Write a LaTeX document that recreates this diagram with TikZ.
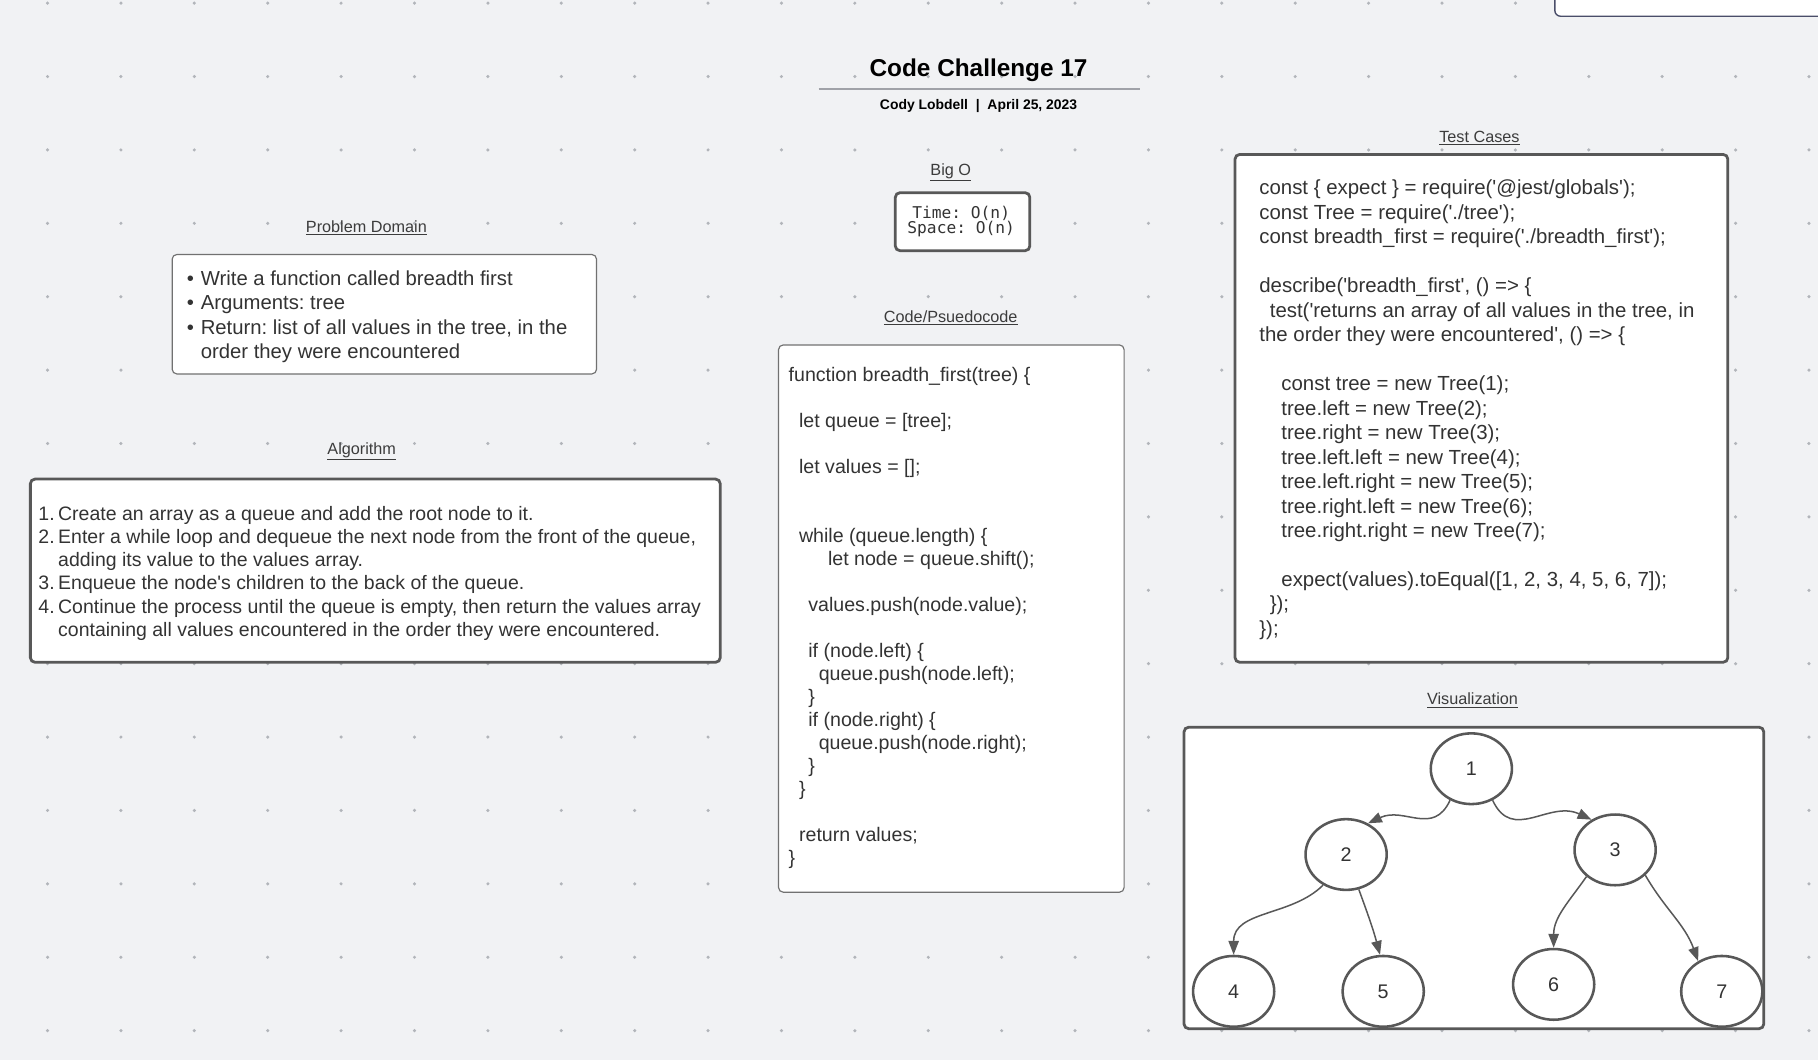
\documentclass[tikz,border=0pt]{standalone}
\usepackage{fontspec}
\setmainfont{Liberation Sans}
\newfontfamily\monof{DejaVu Sans Mono}
\usetikzlibrary{shapes.geometric,arrows.meta}
\frenchspacing
\definecolor{bgc}{HTML}{F1F2F4}
\definecolor{dotc}{HTML}{B2B5BA}
\definecolor{linec}{HTML}{585858}
\definecolor{txtc}{HTML}{333333}
\definecolor{headc}{HTML}{3C3C3C}
\definecolor{rulec}{HTML}{A0A2A8}
\definecolor{topc}{HTML}{4A4E69}
\newcommand{\sq}{\textquotesingle}
\tikzset{
  heading/.style={font=\fontsize{14}{16}\selectfont, text=headc, inner sep=0pt},
  thinbox/.style={draw=linec!85, line width=1pt, fill=white, rounded corners=4pt, anchor=north west, inner sep=0pt},
  thickbox/.style={draw=linec, line width=2.4pt, fill=white, rounded corners=4pt, anchor=north west, inner sep=0pt},
  body/.style={anchor=north west, inner sep=0pt, align=left, text=txtc},
  treenode/.style={ellipse, draw=linec, line width=2.2pt, fill=white, minimum width=70pt, minimum height=61pt, font=\fontsize{17}{20}\selectfont, text=txtc},
  treeedge/.style={draw=linec, line width=1.3pt, -{Triangle[length=12pt,width=9pt]}}
}
\begin{document}
\frenchspacing
\begin{tikzpicture}[x=1pt,y=-1pt]
\useasboundingbox (0,0) rectangle (1568,914);
\begin{scope}
\clip (0,0) rectangle (1568,914);
\fill[bgc] (0,0) rectangle (1568,914);
\foreach \i in {0,...,24}{\foreach \j in {-1,...,13}{\fill[dotc] ({41+63.3*\i},{66+63.3*\j}) circle (1.5);}}
% partial box top right
\draw[fill=white, draw=topc, line width=1.2pt, rounded corners=5pt] (1341,-20) rectangle (1620,14);
\end{scope}

% title
\node[font=\bfseries\fontsize{21}{24}\selectfont, text=black, inner sep=0pt] (title) at (844,61) {Code Challenge 17};
\coordinate (ruleL) at (706,77);
\coordinate (ruleR) at (983,77);
\draw[rulec, line width=1.5pt] (ruleL) -- (ruleR);
\node[font=\bfseries\fontsize{12}{14}\selectfont, text=black, inner sep=0pt] (sub) at (844,91) {Cody Lobdell \ | \ April 25, 2023};

% headings
\node[heading] (hpd) at (316,196.5) {\underline{Problem Domain}};
\node[heading] (halg) at (312,389.5) {\underline{Algorithm}};
\node[heading] (hbig) at (820,148.5) {\underline{Big O}};
\node[heading] (hcode) at (820,274) {\underline{Code/Psuedocode}};
\node[heading] (htest) at (1276,119) {\underline{Test Cases}};
\node[heading] (hvis) at (1270,604) {\underline{Visualization}};

% Problem domain
\node[thinbox, minimum width=366pt, minimum height=103pt] (pdbox) at (148,219) {};
\node[body, font=\fontsize{17.5}{21}\selectfont] (pdtext) at (161,231.3) {\strut\makebox[12pt][l]{•}Write a function called breadth first\\
\makebox[12pt][l]{•}Arguments: tree\\
\makebox[12pt][l]{•}Return: list of all values in the tree, in the\\
\hspace*{12pt}order they were encountered};

% Algorithm
\node[thickbox, minimum width=595pt, minimum height=158pt] (algbox) at (25,412) {};
\node[body, font=\fontsize{16.8}{20}\selectfont] (algtext) at (33,434.5) {\strut\makebox[17pt][l]{1.}Create an array as a queue and add the root node to it.\\
\makebox[17pt][l]{2.}Enter a while loop and dequeue the next node from the front of the queue,\\
\hspace*{17pt}adding its value to the values array.\\
\makebox[17pt][l]{3.}Enqueue the node\sq s children to the back of the queue.\\
\makebox[17pt][l]{4.}Continue the process until the queue is empty, then return the values array\\
\hspace*{17pt}containing all values encountered in the order they were encountered.};

% Big O
\node[thickbox, minimum width=116pt, minimum height=50pt] (bigbox) at (771,165) {};
\node[inner sep=0pt, align=center, font=\monof\fontsize{14}{13}\selectfont, text=txtc] (bigtext) at (829,191) {Time: O(n)\\Space: O(n)};

% Code
\node[thinbox, minimum width=298pt, minimum height=472pt] (codebox) at (671,297) {};
\node[body, font=\fontsize{16.9}{19.85}\selectfont] (codetext) at (680,315) {\strut function breadth\_first(tree) \{\\
\mbox{}\\
\hspace*{9pt}let queue = [tree];\\
\mbox{}\\
\hspace*{9pt}let values = [];\\
\mbox{}\\
\mbox{}\\
\hspace*{9pt}while (queue.length) \{\\
\hspace*{34pt}let node = queue.shift();\\
\mbox{}\\
\hspace*{17pt}values.push(node.value);\\
\mbox{}\\
\hspace*{17pt}if (node.left) \{\\
\hspace*{26pt}queue.push(node.left);\\
\hspace*{17pt}\}\\
\hspace*{17pt}if (node.right) \{\\
\hspace*{26pt}queue.push(node.right);\\
\hspace*{17pt}\}\\
\hspace*{9pt}\}\\
\mbox{}\\
\hspace*{9pt}return values;\\
\}};

% Test cases
\node[thickbox, minimum width=425pt, minimum height=438pt] (testbox) at (1064,132) {};
\node[body, font=\fontsize{17.6}{21.1}\selectfont] (testtext) at (1086,153.2) {\strut const \{ expect \} = require(\sq @jest/globals\sq);\\
const Tree = require(\sq./tree\sq);\\
const breadth\_first = require(\sq./breadth\_first\sq);\\
\mbox{}\\
describe(\sq breadth\_first\sq, () => \{\\
\hspace*{9pt}test(\sq returns an array of all values in the tree, in\\
the order they were encountered\sq, () => \{\\
\mbox{}\\
\hspace*{19pt}const tree = new Tree(1);\\
\hspace*{19pt}tree.left = new Tree(2);\\
\hspace*{19pt}tree.right = new Tree(3);\\
\hspace*{19pt}tree.left.left = new Tree(4);\\
\hspace*{19pt}tree.left.right = new Tree(5);\\
\hspace*{19pt}tree.right.left = new Tree(6);\\
\hspace*{19pt}tree.right.right = new Tree(7);\\
\mbox{}\\
\hspace*{19pt}expect(values).toEqual([1, 2, 3, 4, 5, 6, 7]);\\
\hspace*{9pt}\});\\
\});};

% Visualization
\node[thickbox, minimum width=500pt, minimum height=260pt] (visbox) at (1020,626) {};
\node[treenode] (n1) at (1269,663) {1};
\node[treenode] (n2) at (1161,737) {2};
\node[treenode] (n3) at (1393,733) {3};
\node[treenode] (n4) at (1064,855) {4};
\node[treenode] (n5) at (1193,855) {5};
\node[treenode] (n6) at (1340,849) {6};
\node[treenode] (n7) at (1485,855) {7};
\draw[treeedge] (n1.236) to[out=245, in=25, looseness=1.2] (n2.55);
\draw[treeedge] (n1.304) to[out=295, in=155, looseness=1.2] (n3.128);
\draw[treeedge] (n2.233) to[out=225, in=90] (n4.90);
\draw[treeedge] (n2.290) to[out=290, in=105] (n5.95);
\draw[treeedge] (n3.223) to[out=235, in=90] (n6.90);
\draw[treeedge] (n3.320) to[out=300, in=110] (n7.128);
\end{tikzpicture}
\end{document}
